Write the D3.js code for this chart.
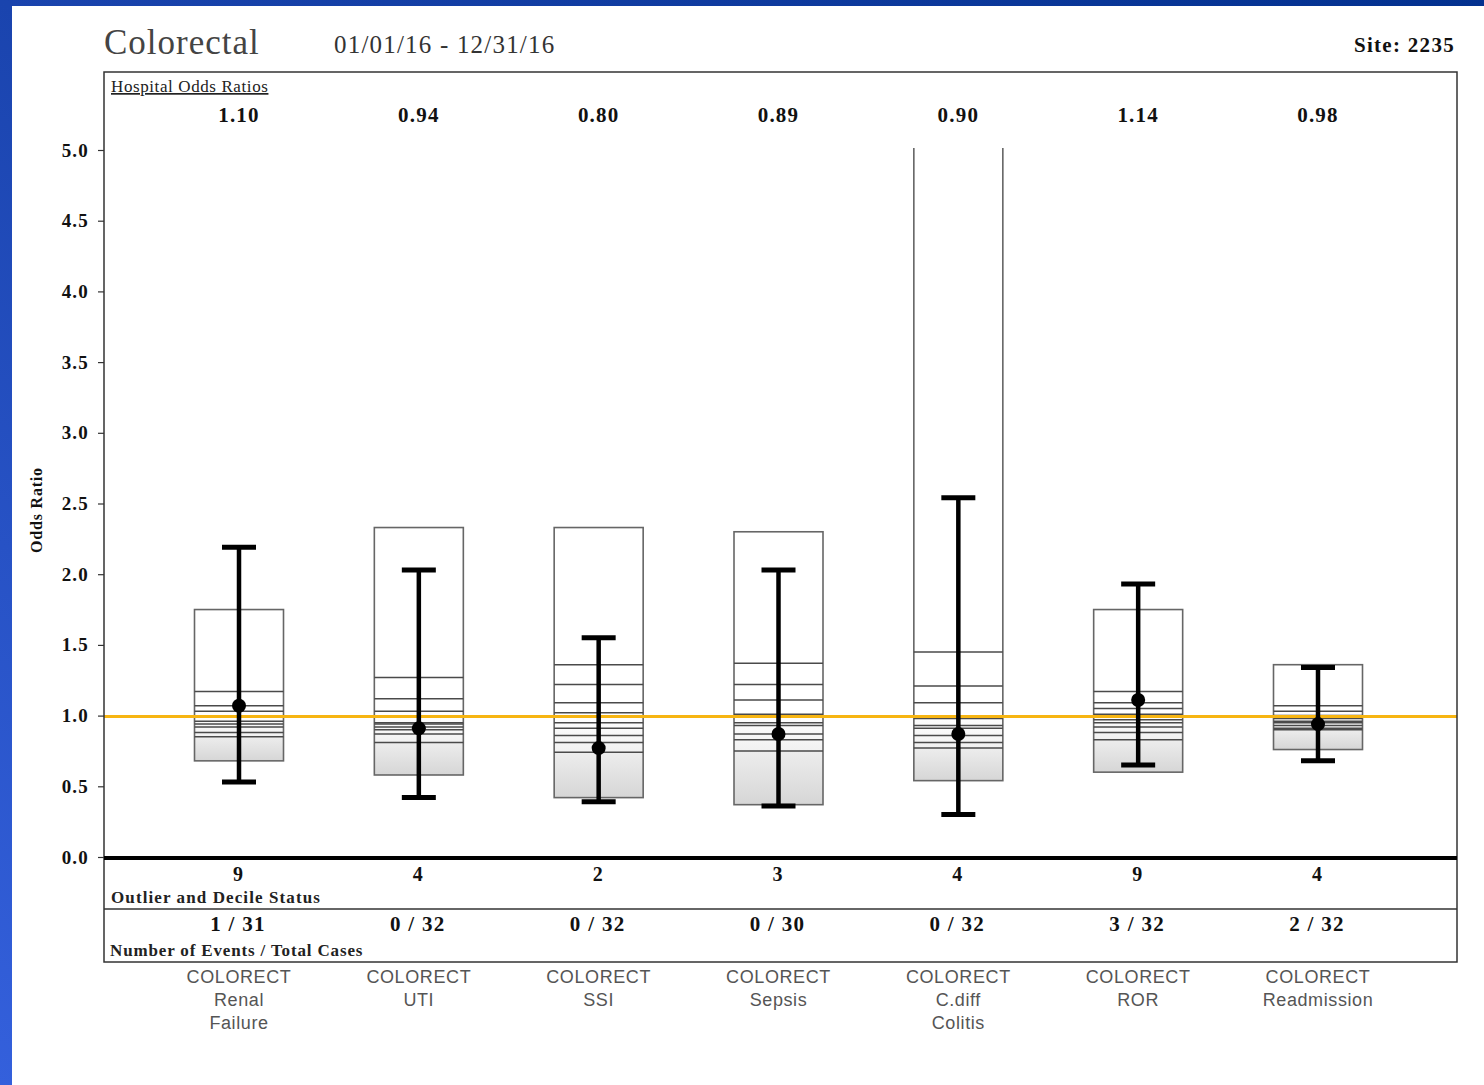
<!DOCTYPE html>
<html>
<head>
<meta charset="utf-8">
<script src="https://cdn.jsdelivr.net/npm/d3@7"></script>
<style>
  html, body { margin: 0; padding: 0; background: #fff; }
  svg { display: block; }
</style>
</head>
<body>
<div id="chart"></div>
<script>
// chart values
const categories = ["renal", "uti", "ssi", "sepsis", "cdiff", "ror", "readm"];
const catLabels = [
  ["COLORECT", "Renal", "Failure"],
  ["COLORECT", "UTI"],
  ["COLORECT", "SSI"],
  ["COLORECT", "Sepsis"],
  ["COLORECT", "C.diff", "Colitis"],
  ["COLORECT", "ROR"],
  ["COLORECT", "Readmission"]
];
const hospitalOR = ["1.10", "0.94", "0.80", "0.89", "0.90", "1.14", "0.98"];
const pointEst = [1.07, 0.91, 0.77, 0.87, 0.87, 1.11, 0.94];
const ciLow = [0.53, 0.42, 0.39, 0.36, 0.30, 0.65, 0.68];
const ciHigh = [2.19, 2.03, 1.55, 2.03, 2.54, 1.93, 1.34];
const boxMax = [1.75, 2.33, 2.33, 2.30, 6.20, 1.75, 1.36];
const boxMin = [0.68, 0.58, 0.42, 0.37, 0.54, 0.60, 0.76];
const deciles = [
  [1.17, 1.07, 1.03, 0.99, 0.96, 0.94, 0.92, 0.88, 0.85],
  [1.27, 1.12, 1.03, 0.95, 0.94, 0.92, 0.90, 0.87, 0.81],
  [1.36, 1.22, 1.09, 1.02, 0.95, 0.91, 0.86, 0.81, 0.74],
  [1.37, 1.22, 1.11, 1.01, 0.95, 0.93, 0.87, 0.83, 0.75],
  [1.45, 1.21, 1.09, 0.98, 0.93, 0.91, 0.86, 0.81, 0.77],
  [1.17, 1.09, 1.05, 1.01, 0.97, 0.95, 0.92, 0.88, 0.83],
  [1.07, 1.03, 1.00, 0.98, 0.96, 0.95, 0.93, 0.91, 0.90]
];
const decileStatus = ["9", "4", "2", "3", "4", "9", "4"];
const eventsCases = ["1 / 31", "0 / 32", "0 / 32", "0 / 30", "0 / 32", "3 / 32", "2 / 32"];
const yTicks = [0, 0.5, 1, 1.5, 2, 2.5, 3, 3.5, 4, 4.5, 5];

const W = 1484, H = 1085;
const frame = { left: 104, top: 72, right: 1457, bottom: 962 };
const serif = "'Liberation Serif', 'Times New Roman', serif";
const sans = "'Liberation Sans', Arial, sans-serif";

const svg = d3.select("#chart").append("svg")
  .attr("width", W)
  .attr("height", H);

const defs = svg.append("defs");

// blue slide background
const bg = defs.append("linearGradient").attr("id", "bg-grad")
  .attr("x1", "100%").attr("y1", "0%").attr("x2", "0%").attr("y2", "100%");
bg.append("stop").attr("offset", "0%").attr("stop-color", "#03318f");
bg.append("stop").attr("offset", "50%").attr("stop-color", "#1a44ae");
bg.append("stop").attr("offset", "100%").attr("stop-color", "#3460dc");

const midGrad = defs.append("linearGradient").attr("id", "mid-grad")
  .attr("x1", 0).attr("y1", 0).attr("x2", 0).attr("y2", 1);
midGrad.append("stop").attr("offset", "0%").attr("stop-color", "#ffffff");
midGrad.append("stop").attr("offset", "100%").attr("stop-color", "#f1f1f1");

const lowGrad = defs.append("linearGradient").attr("id", "low-grad")
  .attr("x1", 0).attr("y1", 0).attr("x2", 0).attr("y2", 1);
lowGrad.append("stop").attr("offset", "0%").attr("stop-color", "#ededed");
lowGrad.append("stop").attr("offset", "100%").attr("stop-color", "#d6d6d6");

svg.append("rect").attr("width", W).attr("height", H).attr("fill", "url(#bg-grad)");
svg.append("rect").attr("x", 12).attr("y", 6).attr("width", W - 12).attr("height", H - 6).attr("fill", "#fff");

// scales
const x = d3.scalePoint().domain(categories).range([239, 1318]);
const y = d3.scaleLinear().domain([0, 5]).range([857, 150]);
const halfW = 44.5;

defs.append("clipPath").attr("id", "plot-clip")
  .append("rect")
  .attr("x", frame.left).attr("y", y(5) - 2)
  .attr("width", frame.right - frame.left).attr("height", y(0) - y(5) + 2);

// titles
svg.append("text")
  .attr("x", 104).attr("y", 54)
  .style("font-family", serif).style("font-size", "35px").style("letter-spacing", "1px").attr("fill", "#444")
  .text("Colorectal");
svg.append("text")
  .attr("x", 334).attr("y", 53)
  .style("font-family", serif).style("font-size", "25px").style("letter-spacing", "1.2px").attr("fill", "#333")
  .text("01/01/16 - 12/31/16");
svg.append("text")
  .attr("x", 1455).attr("y", 52).attr("text-anchor", "end")
  .style("font-family", serif).style("font-size", "21px").style("font-weight", "bold").style("letter-spacing", "1.3px").attr("fill", "#111")
  .text("Site: 2235");

const data = categories.map((c, i) => ({
  key: c, or: hospitalOR[i], pt: pointEst[i], lo: ciLow[i], hi: ciHigh[i],
  max: boxMax[i], min: boxMin[i], dec: deciles[i],
  status: decileStatus[i], events: eventsCases[i], label: catLabels[i]
}));

// boxes
const plot = svg.append("g").attr("clip-path", "url(#plot-clip)");
const boxes = plot.selectAll(".box").data(data).enter().append("g").attr("class", "box");

boxes.append("rect")
  .attr("x", d => x(d.key) - halfW).attr("width", 2 * halfW)
  .attr("y", d => Math.min(y(1), y(d3.min(d.dec))))
  .attr("height", d => Math.max(0, y(d3.min(d.dec)) - Math.min(y(1), y(d3.min(d.dec)))))
  .attr("fill", "url(#mid-grad)");

boxes.append("rect")
  .attr("x", d => x(d.key) - halfW).attr("width", 2 * halfW)
  .attr("y", d => y(d3.min(d.dec)))
  .attr("height", d => y(d.min) - y(d3.min(d.dec)))
  .attr("fill", "url(#low-grad)");

boxes.append("rect")
  .attr("x", d => x(d.key) - halfW).attr("width", 2 * halfW)
  .attr("y", d => y(d.max))
  .attr("height", d => y(d.min) - y(d.max))
  .attr("fill", "none").attr("stroke", "#666").attr("stroke-width", 1.6);

boxes.selectAll(".dec").data(d => d.dec.map(v => ({ key: d.key, v }))).enter()
  .append("line").attr("class", "dec")
  .attr("x1", d => x(d.key) - halfW).attr("x2", d => x(d.key) + halfW)
  .attr("y1", d => y(d.v)).attr("y2", d => y(d.v))
  .attr("stroke", "#4a4a4a").attr("stroke-width", 1.5);

// reference line at 1.0
svg.append("line")
  .attr("x1", frame.left).attr("x2", frame.right)
  .attr("y1", y(1) + 1).attr("y2", y(1) + 1)
  .attr("stroke", "#f7b512").attr("stroke-width", 3);

// error bars
const err = svg.selectAll(".err").data(data).enter().append("g").attr("class", "err");
err.append("line")
  .attr("x1", d => x(d.key)).attr("x2", d => x(d.key))
  .attr("y1", d => y(d.hi)).attr("y2", d => y(d.lo))
  .attr("stroke", "#000").attr("stroke-width", 4.5);
err.append("line")
  .attr("x1", d => x(d.key) - 17).attr("x2", d => x(d.key) + 17)
  .attr("y1", d => y(d.hi)).attr("y2", d => y(d.hi))
  .attr("stroke", "#000").attr("stroke-width", 5);
err.append("line")
  .attr("x1", d => x(d.key) - 17).attr("x2", d => x(d.key) + 17)
  .attr("y1", d => y(d.lo)).attr("y2", d => y(d.lo))
  .attr("stroke", "#000").attr("stroke-width", 5);
err.append("circle")
  .attr("cx", d => x(d.key)).attr("cy", d => y(d.pt)).attr("r", 7)
  .attr("fill", "#000");

// frame and row dividers
svg.append("rect")
  .attr("x", frame.left).attr("y", frame.top)
  .attr("width", frame.right - frame.left).attr("height", frame.bottom - frame.top)
  .attr("fill", "none").attr("stroke", "#333").attr("stroke-width", 1.5);
svg.append("line")
  .attr("x1", frame.left).attr("x2", frame.right)
  .attr("y1", 909).attr("y2", 909)
  .attr("stroke", "#333").attr("stroke-width", 1.5);
svg.append("line")
  .attr("x1", frame.left).attr("x2", frame.right)
  .attr("y1", y(0) + 1).attr("y2", y(0) + 1)
  .attr("stroke", "#000").attr("stroke-width", 4);

// y axis
const yAxis = svg.append("g")
  .attr("transform", `translate(${frame.left},0)`)
  .call(d3.axisLeft(y).tickValues(yTicks).tickFormat(d3.format(".1f")).tickSize(6).tickPadding(9));
yAxis.select(".domain").remove();
yAxis.selectAll(".tick line").attr("stroke", "#333").attr("stroke-width", 1.2);
yAxis.selectAll(".tick text")
  .style("font-family", serif).style("font-size", "19px").style("font-weight", "bold").style("letter-spacing", "1.2px").attr("fill", "#111");

svg.append("text")
  .attr("transform", "translate(42,510) rotate(-90)")
  .attr("text-anchor", "middle")
  .style("font-family", serif).style("font-size", "16px").style("font-weight", "bold").style("letter-spacing", "0.8px").attr("fill", "#111")
  .text("Odds Ratio");

// header row
svg.append("text")
  .attr("x", 111).attr("y", 92)
  .style("font-family", serif).style("font-size", "17px").style("letter-spacing", "0.6px").attr("fill", "#222")
  .style("text-decoration", "underline")
  .text("Hospital Odds Ratios");
svg.selectAll(".or").data(data).enter().append("text").attr("class", "or")
  .attr("x", d => x(d.key)).attr("y", 122).attr("text-anchor", "middle")
  .style("font-family", serif).style("font-size", "21px").style("font-weight", "bold").style("letter-spacing", "1.2px").attr("fill", "#111")
  .text(d => d.or);

// bottom rows
svg.selectAll(".status").data(data).enter().append("text").attr("class", "status")
  .attr("x", d => x(d.key) - 1).attr("y", 881).attr("text-anchor", "middle")
  .style("font-family", serif).style("font-size", "20px").style("font-weight", "bold").attr("fill", "#111")
  .text(d => d.status);
svg.append("text")
  .attr("x", 111).attr("y", 903)
  .style("font-family", serif).style("font-size", "17px").style("font-weight", "bold").style("letter-spacing", "1.1px").attr("fill", "#222")
  .text("Outlier and Decile Status");
svg.selectAll(".events").data(data).enter().append("text").attr("class", "events")
  .attr("x", d => x(d.key) - 1).attr("y", 931).attr("text-anchor", "middle")
  .style("font-family", serif).style("font-size", "21px").style("font-weight", "bold").style("letter-spacing", "1.3px").attr("fill", "#111")
  .text(d => d.events);
svg.append("text")
  .attr("x", 110).attr("y", 956)
  .style("font-family", serif).style("font-size", "17px").style("font-weight", "bold").style("letter-spacing", "0.85px").attr("fill", "#222")
  .text("Number of Events / Total Cases");

// category labels
const cat = svg.selectAll(".cat").data(data).enter().append("text").attr("class", "cat")
  .attr("text-anchor", "middle")
  .style("font-family", sans).style("font-size", "18px").style("letter-spacing", "0.6px").attr("fill", "#555");
cat.selectAll("tspan").data(d => d.label.map(t => ({ key: d.key, t }))).enter()
  .append("tspan")
  .attr("x", d => x(d.key))
  .attr("y", (d, i) => 983 + i * 23)
  .text(d => d.t);
</script>
</body>
</html>
